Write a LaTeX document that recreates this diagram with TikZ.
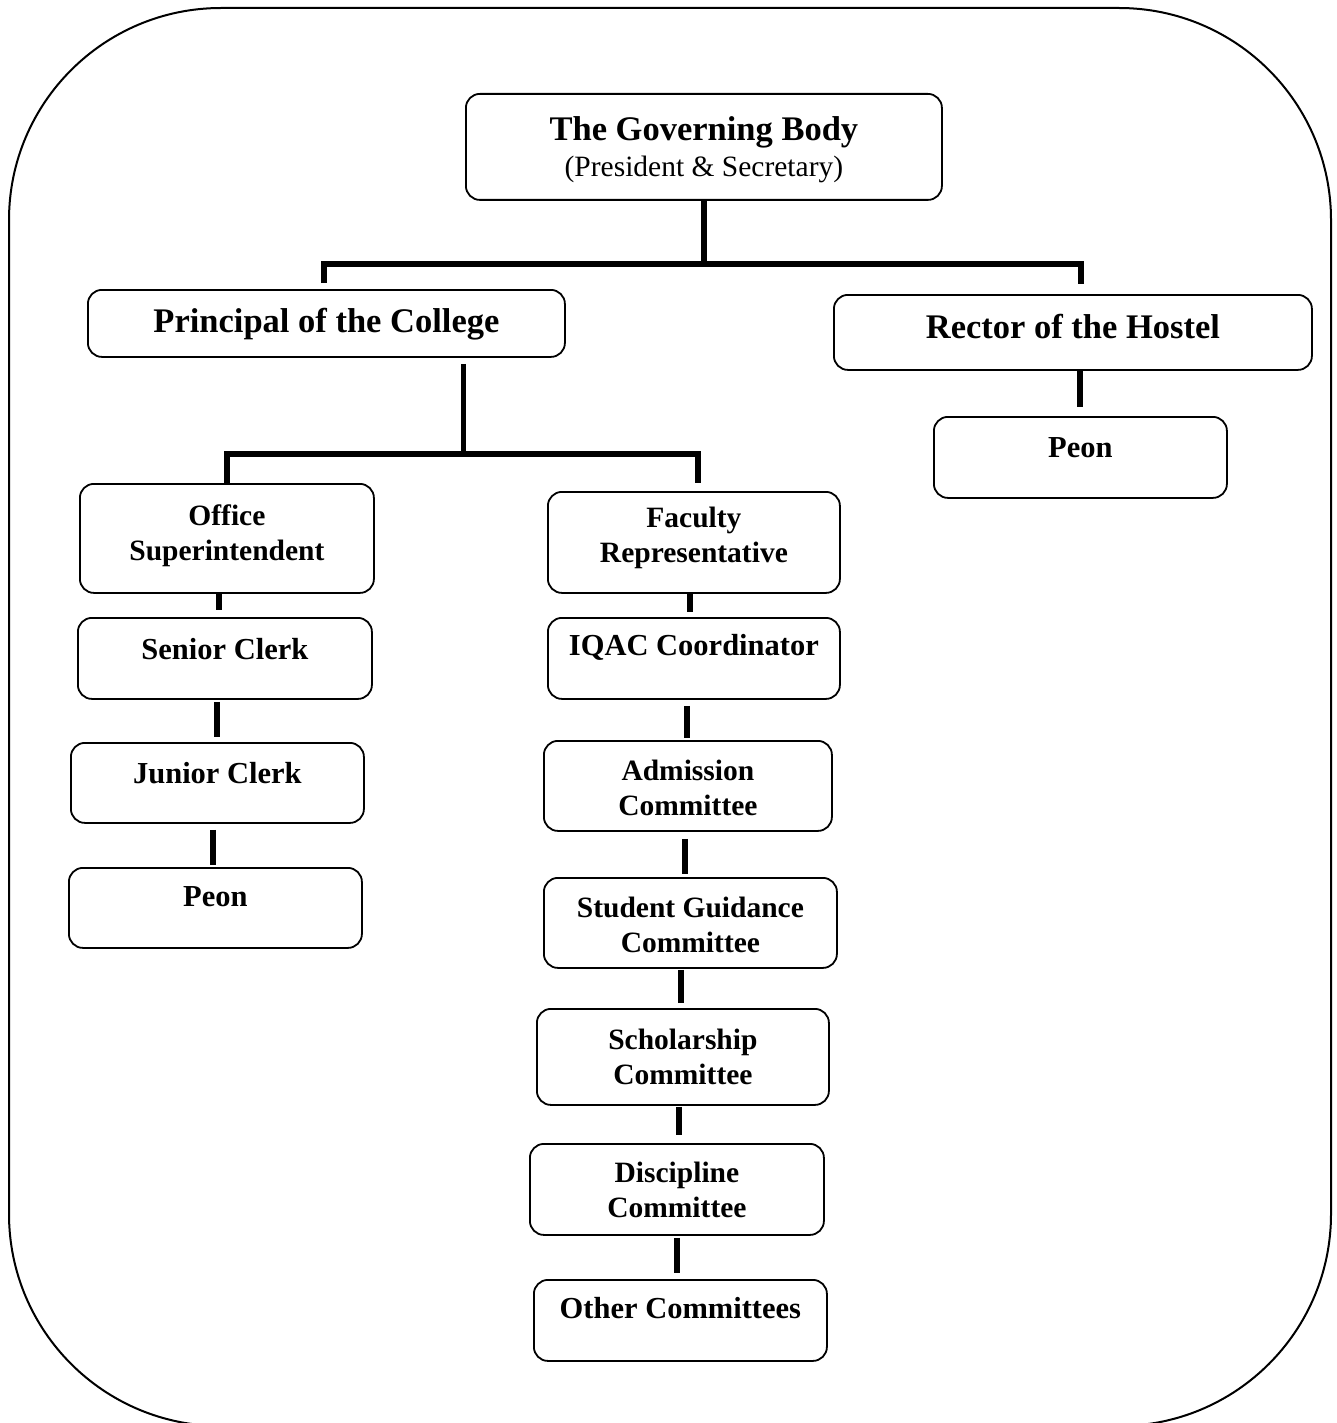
\documentclass[tikz,border=0pt]{standalone}
\usepackage{fontspec}
\setmainfont{Liberation Serif}
\usetikzlibrary{positioning}

\begin{document}
\begin{tikzpicture}[x=1pt,y=-1pt,
  chart/.style={draw,rounded corners=14pt,line width=1.8pt,inner sep=0pt,anchor=north west,align=center},
  link/.style={line width=5.5pt},
  bigtext/.style={font=\bfseries\fontsize{34.5}{36}\selectfont},
  midtext/.style={font=\bfseries\fontsize{30.5}{35}\selectfont},
  smalltext/.style={font=\bfseries\fontsize{29.5}{35.5}\selectfont}]
\useasboundingbox (0,0) rectangle (1336,1423);
\draw[line width=2pt,rounded corners=212pt] (9,8) rectangle (1331,1426);

\node[chart,bigtext,minimum width=476pt,text height=83pt,text depth=23pt] (gb) at (465,93)
  {The Governing Body\\{\mdseries\fontsize{29.5}{36}\selectfont (President \& Secretary)}};
\node[chart,bigtext,minimum width=477pt,text height=43pt,text depth=24pt] (pr) at (87,289) {Principal of the College};
\node[chart,bigtext,minimum width=478pt,text height=44pt,text depth=31pt] (rc) at (833,294) {Rector of the Hostel};
\node[chart,midtext,minimum width=293pt,text height=41pt,text depth=40pt] (hp) at (933,416) {Peon};

\node[chart,smalltext,minimum width=294pt,text height=77pt,text depth=32pt] (os) at (79,483) {Office\\Superintendent};
\node[chart,midtext,minimum width=294pt,text height=42pt,text depth=39pt] (sc) at (77,617) {Senior Clerk};
\node[chart,midtext,minimum width=293pt,text height=41pt,text depth=39pt] (jc) at (70,742) {Junior Clerk};
\node[chart,midtext,minimum width=293pt,text height=39pt,text depth=41pt] (pl) at (68,867) {Peon};

\node[chart,smalltext,minimum width=292pt,text height=71pt,text depth=30pt] (fr) at (547,491) {Faculty\\Representative};
\node[chart,midtext,minimum width=292pt,text height=38pt,text depth=43pt] (iq) at (547,617) {IQAC Coordinator};
\node[chart,smalltext,minimum width=288pt,text height=75pt,text depth=15pt] (ad) at (543,740) {Admission\\Committee};
\node[chart,smalltext,minimum width=293pt,text height=75pt,text depth=15pt] (sg) at (543,877) {Student Guidance\\Committee};
\node[chart,smalltext,minimum width=292pt,text height=76pt,text depth=20pt] (sh) at (536,1008) {Scholarship\\Committee};
\node[chart,smalltext,minimum width=294pt,text height=74pt,text depth=17pt] (dc) at (529,1143) {Discipline\\Committee};
\node[chart,midtext,minimum width=293pt,text height=39pt,text depth=42pt] (oc) at (533,1279) {Other Committees};

% top level
\draw[link] (gb.south) -- ++(0,63) coordinate (gbbus);
\draw[link] ([xshift=-2.5pt,yshift=6pt]pr.north) |- (gbbus) -| ([xshift=8pt,yshift=10pt]rc.north);

% college side
\draw[link] ([xshift=137pt,yshift=-6pt]pr.south) -- ++(0,90) coordinate (prbus);
\draw[link] (os.north) |- (prbus) -| ([xshift=4pt,yshift=8pt]fr.north);

\draw[link,shorten >=7pt] ([xshift=-8pt]os.south) -- ([xshift=-8pt]os.south |- sc.north);
\draw[link,shorten <=2pt,shorten >=5pt] ([xshift=-8pt]sc.south) -- ([xshift=-8pt]sc.south |- jc.north);
\draw[link,shorten <=6pt,shorten >=2pt] ([xshift=-4.5pt]jc.south) -- ([xshift=-4.5pt]jc.south |- pl.north);

\draw[link,shorten >=5pt] ([xshift=-4pt]fr.south) -- ([xshift=-4pt]fr.south |- iq.north);
\draw[link,shorten <=6pt,shorten >=2pt] ([xshift=-7pt]iq.south) -- ([xshift=-7pt]iq.south |- ad.north);
\draw[link,shorten <=7pt,shorten >=3pt] ([xshift=-3pt]ad.south) -- ([xshift=-3pt]ad.south |- sg.north);
\draw[link,shorten <=1pt,shorten >=5pt] ([xshift=-9.5pt]sg.south) -- ([xshift=-9.5pt]sg.south |- sh.north);
\draw[link,shorten <=1pt,shorten >=8pt] ([xshift=-4pt]sh.south) -- ([xshift=-4pt]sh.south |- dc.north);
\draw[link,shorten <=2pt,shorten >=6pt] (dc.south) -- (dc.south |- oc.north);

% hostel side
\draw[link,shorten >=9pt] ([xshift=7pt]rc.south) -- ([xshift=7pt]rc.south |- hp.north);
\end{tikzpicture}
\end{document}
